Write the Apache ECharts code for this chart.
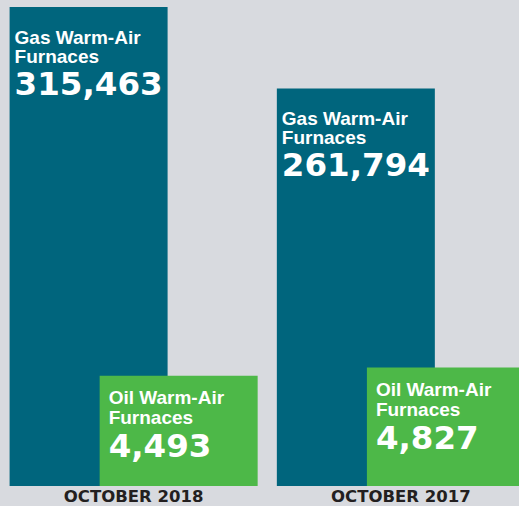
<!DOCTYPE html>
<html>
<head>
<meta charset="utf-8">
<script src="https://cdn.jsdelivr.net/npm/echarts@6/dist/echarts.min.js"></script>
<style>
  html, body { margin: 0; padding: 0; background: #d8dadf; }
  #chart { width: 519px; height: 506px; }
</style>
</head>
<body>
<div id="chart"></div>
<script>
// shipments, October 2018 vs October 2017
var categories = ['OCTOBER 2018', 'OCTOBER 2017'];
var gasName = 'Gas Warm-Air\nFurnaces';
var gasValues = [315463, 261794];
var oilName = 'Oil Warm-Air\nFurnaces';
var oilValues = [4493, 4827];

(function() {
  var teal = '#00657d';
  var green = '#4db848';
  var ink = '#231f20';

  function labelFor(name, pos, lh) {
    return {
      show: true,
      position: pos,
      formatter: function(p) {
        var lines = name.split('\n').map(function(s) { return '{t|' + s + '}'; });
        return lines.join('\n') + '\n{n|' + p.value.toLocaleString('en-US') + '}';
      },
      rich: {
        t: { color: '#fff', fontFamily: 'Liberation Sans', fontWeight: 'bold', fontSize: 19, lineHeight: lh },
        n: { color: '#fff', fontFamily: 'DejaVu Sans', fontWeight: 'bold', fontSize: 32.5, lineHeight: 36 }
      }
    };
  }

  var chart = echarts.init(document.getElementById('chart'), null, { renderer: 'svg' });
  chart.setOption({
    animation: false,
    backgroundColor: '#d8dadf',
    // plot runs past the right edge so the 2017 pair is clipped like the original
    grid: { left: 0, width: 534.5, top: 0, bottom: 20, outerBoundsMode: 'none' },
    xAxis: {
      type: 'category',
      data: categories,
      axisLine: { show: false },
      axisTick: { show: false },
      axisLabel: {
        color: ink, fontFamily: 'DejaVu Sans', fontWeight: 'bold', fontSize: 16.5,
        lineHeight: 14, margin: 3
      }
    },
    yAxis: [
      { type: 'value', min: 0, max: 320000, show: false, splitLine: { show: false } },
      { type: 'value', min: 0, max: 19800, show: false, splitLine: { show: false } }
    ],
    series: [
      {
        name: gasName,
        type: 'bar',
        yAxisIndex: 0,
        data: gasValues,
        barWidth: 158,
        barGap: '-43%',
        itemStyle: { color: teal },
        label: labelFor(gasName, [5, 21], 19)
      },
      {
        name: oilName,
        type: 'bar',
        yAxisIndex: 1,
        data: oilValues,
        barWidth: 158,
        itemStyle: { color: green },
        label: labelFor(oilName, [9, 12], 20)
      }
    ]
  });
  window.addEventListener('resize', function() { chart.resize(); });
})();
</script>
</body>
</html>
